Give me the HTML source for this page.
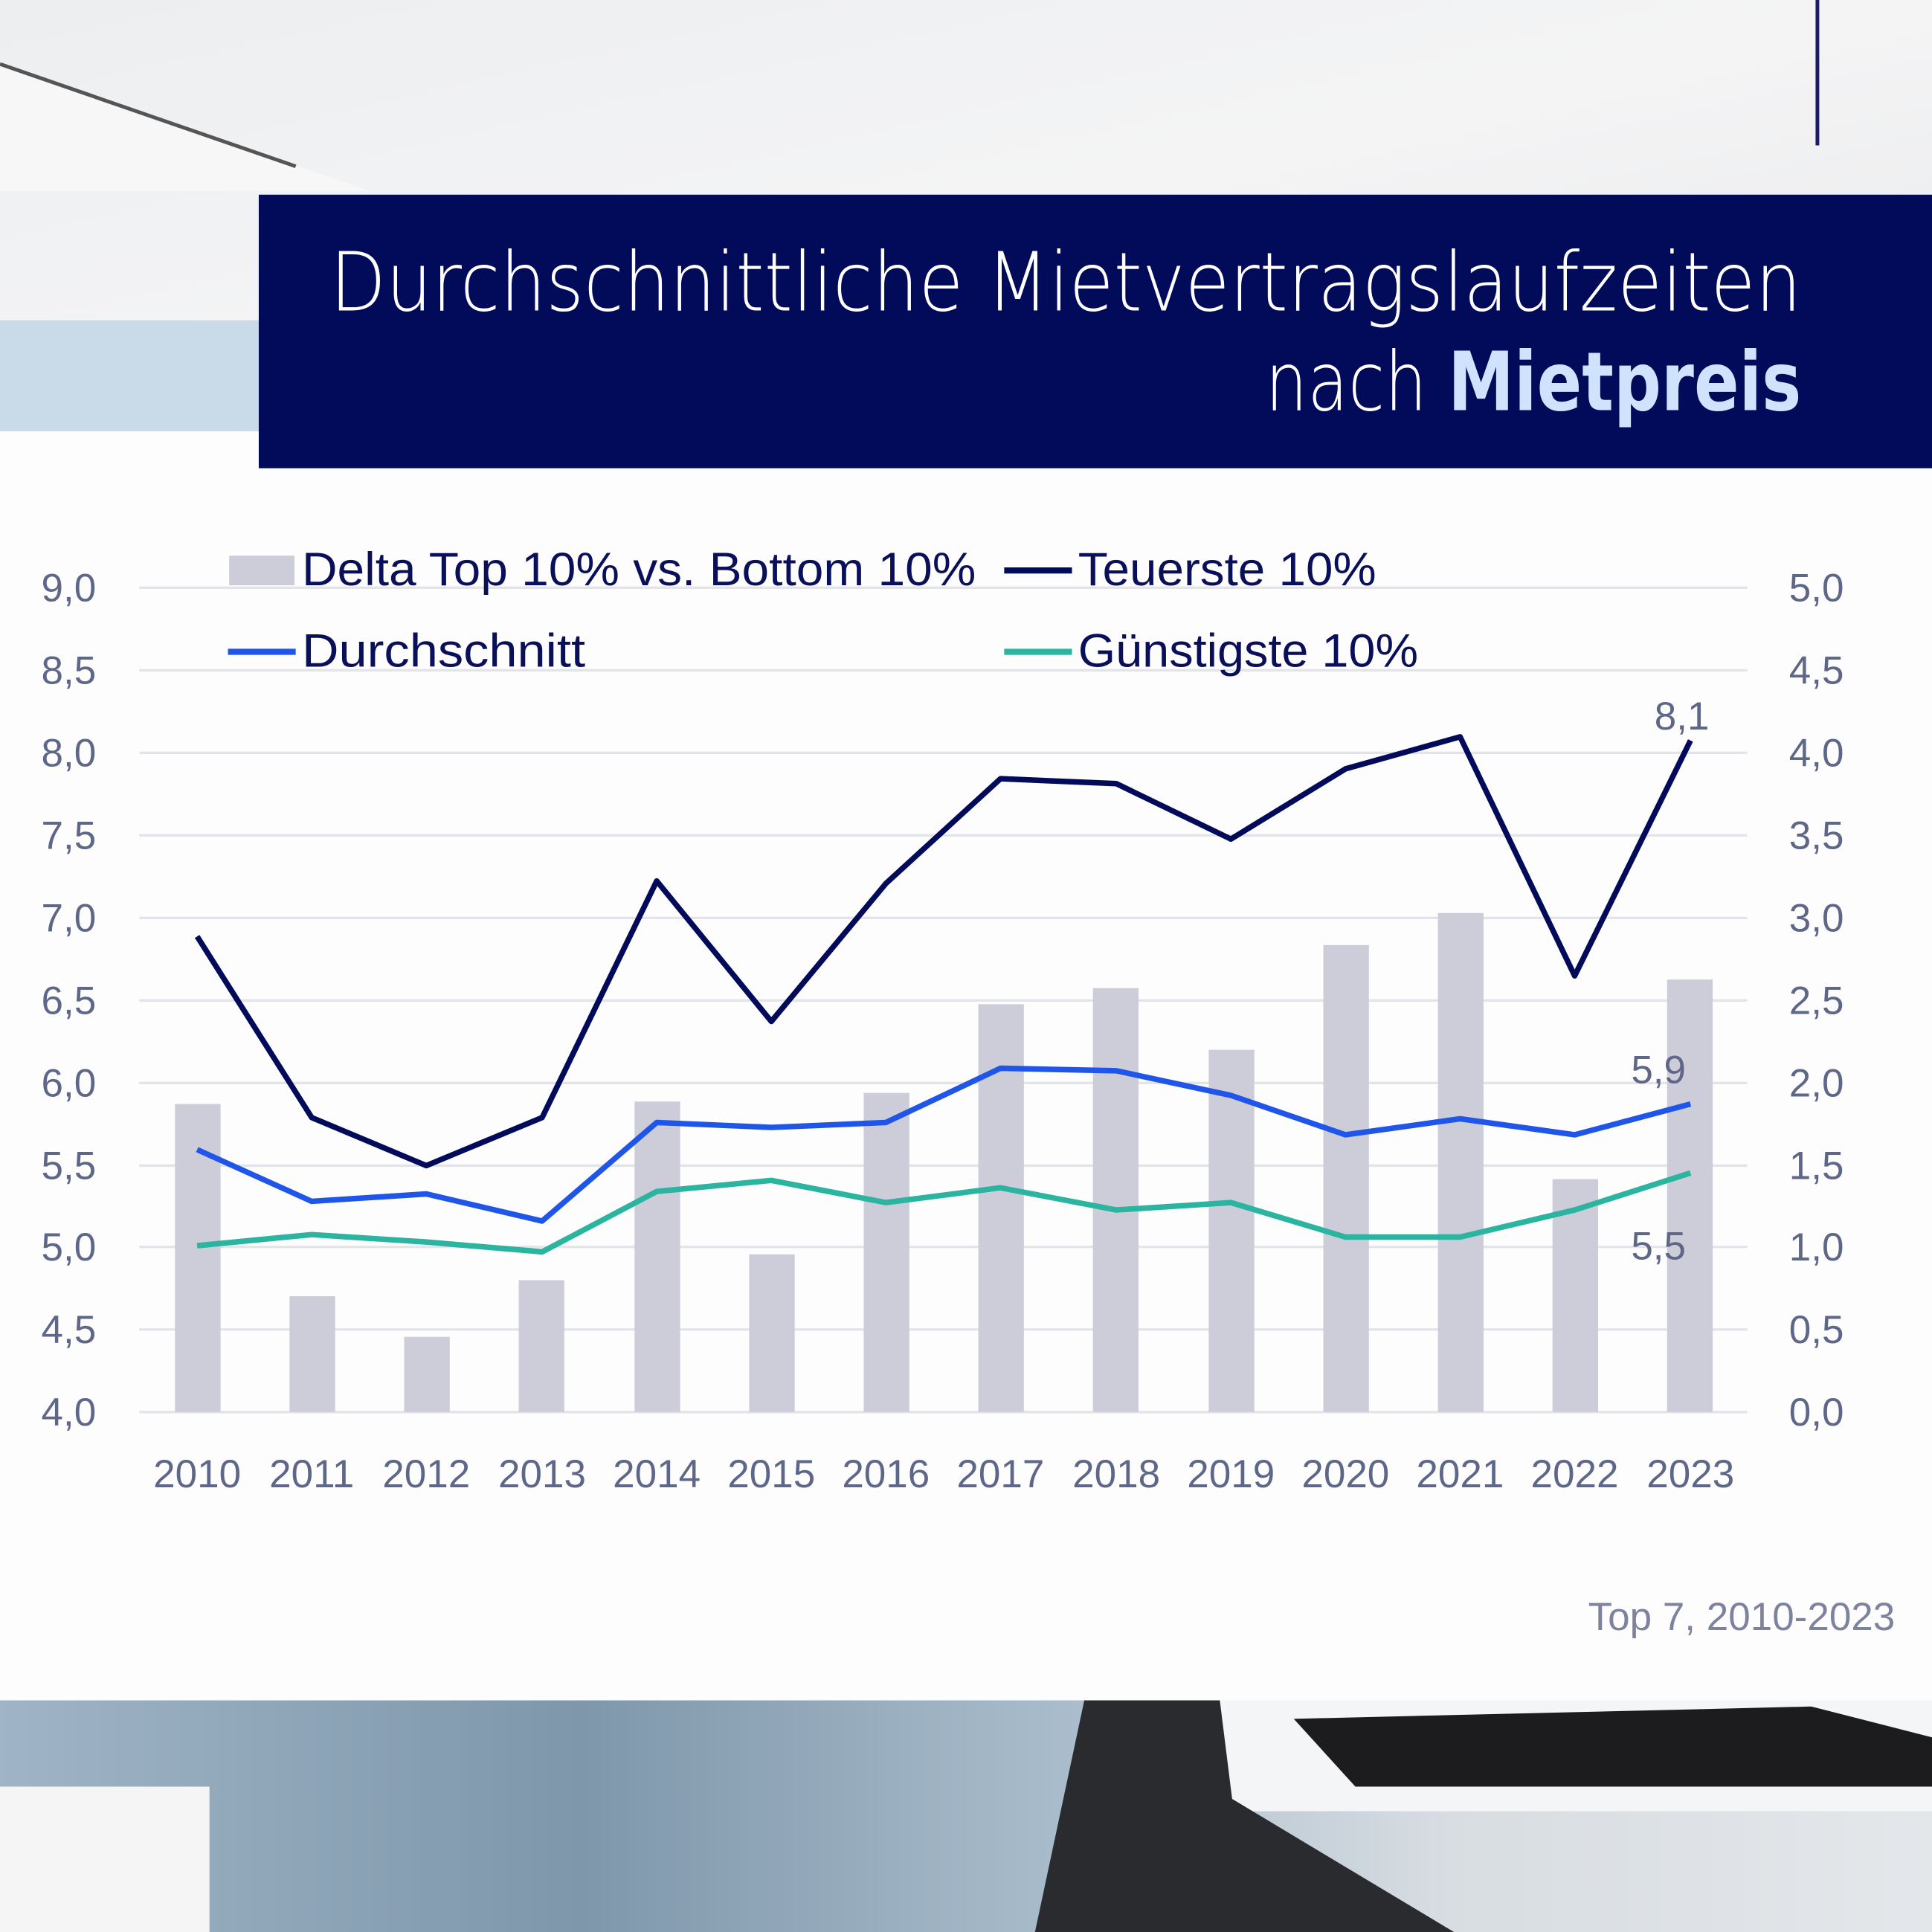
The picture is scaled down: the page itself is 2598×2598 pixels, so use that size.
<!DOCTYPE html>
<html><head><meta charset="utf-8"><style>
html,body{margin:0;padding:0;background:#fff}
svg{display:block}
</style></head><body>
<svg width="2598" height="2598" viewBox="0 0 1568 1568" xmlns="http://www.w3.org/2000/svg" font-family="Liberation Sans, DejaVu Sans, sans-serif">
<defs>
<linearGradient id="top" x1="0" y1="0" x2="1" y2="1">
<stop offset="0" stop-color="#eceef0"/><stop offset="0.5" stop-color="#f4f4f5"/><stop offset="1" stop-color="#e8e9eb"/>
</linearGradient>
<linearGradient id="bot" x1="0" y1="0" x2="1" y2="0">
<stop offset="0" stop-color="#9fb4c6"/><stop offset="0.3" stop-color="#7e97ab"/><stop offset="0.55" stop-color="#a9bccb"/><stop offset="0.75" stop-color="#d8dde2"/><stop offset="1" stop-color="#e4e7ea"/>
</linearGradient>
</defs>
<rect width="1568" height="1568" fill="#fdfdfe"/>
<rect width="1568" height="350" fill="url(#top)"/>
<polygon points="0,50 300,155 0,155" fill="#f7f7f7"/>
<line x1="0" y1="52" x2="240" y2="135" stroke="#555" stroke-width="3"/>
<rect x="0" y="260" width="210" height="90" fill="#c9dbe8"/>
<line x1="1475" y1="0" x2="1475" y2="118" stroke="#1a1d66" stroke-width="3"/>
<rect x="210" y="158" width="1358" height="222" fill="#020a5a"/>
<text x="268" y="252" font-size="66" fill="#fff" font-family="DejaVu Sans, sans-serif" font-weight="200" textLength="1194" lengthAdjust="spacingAndGlyphs">Durchschnittliche Mietvertragslaufzeiten</text>
<text x="1027" y="333" font-size="66" fill="#fff" font-family="DejaVu Sans, sans-serif" font-weight="200" textLength="435" lengthAdjust="spacingAndGlyphs">nach <tspan font-weight="bold" fill="#cfe3ff">Mietpreis</tspan></text>
<rect x="0" y="1380" width="1568" height="188" fill="url(#bot)"/>
<polygon points="900,1380 1568,1380 1568,1470 920,1470" fill="#f4f5f6"/>
<polygon points="1050,1395 1470,1385 1568,1410 1568,1450 1100,1450" fill="#1c1c1e"/>
<polygon points="840,1568 880,1380 990,1380 1000,1460 1180,1568" fill="#2a2b2e"/>
<rect x="0" y="1450" width="170" height="118" fill="#f5f5f5"/>
<g stroke="#e3e4ea" stroke-width="2">
<line x1="113" y1="477" x2="1418" y2="477"/><line x1="113" y1="544" x2="1418" y2="544"/><line x1="113" y1="611" x2="1418" y2="611"/><line x1="113" y1="678" x2="1418" y2="678"/><line x1="113" y1="745" x2="1418" y2="745"/><line x1="113" y1="812" x2="1418" y2="812"/><line x1="113" y1="879" x2="1418" y2="879"/><line x1="113" y1="946" x2="1418" y2="946"/><line x1="113" y1="1012" x2="1418" y2="1012"/><line x1="113" y1="1079" x2="1418" y2="1079"/><line x1="113" y1="1146" x2="1418" y2="1146"/>
</g>
<g fill="#5f6789" font-size="32">
<g text-anchor="end">
<text x="78" y="488">9,0</text><text x="78" y="555">8,5</text><text x="78" y="622">8,0</text><text x="78" y="689">7,5</text><text x="78" y="756">7,0</text><text x="78" y="823">6,5</text><text x="78" y="890">6,0</text><text x="78" y="957">5,5</text><text x="78" y="1023">5,0</text><text x="78" y="1090">4,5</text><text x="78" y="1157">4,0</text>
</g>
<g>
<text x="1452" y="488">5,0</text><text x="1452" y="555">4,5</text><text x="1452" y="622">4,0</text><text x="1452" y="689">3,5</text><text x="1452" y="756">3,0</text><text x="1452" y="823">2,5</text><text x="1452" y="890">2,0</text><text x="1452" y="957">1,5</text><text x="1452" y="1023">1,0</text><text x="1452" y="1090">0,5</text><text x="1452" y="1157">0,0</text>
</g>
<g text-anchor="middle">
<text x="160" y="1207">2010</text><text x="253" y="1207">2011</text><text x="346" y="1207">2012</text><text x="440" y="1207">2013</text><text x="533" y="1207">2014</text><text x="626" y="1207">2015</text><text x="719" y="1207">2016</text><text x="812" y="1207">2017</text><text x="906" y="1207">2018</text><text x="999" y="1207">2019</text><text x="1092" y="1207">2020</text><text x="1185" y="1207">2021</text><text x="1278" y="1207">2022</text><text x="1372" y="1207">2023</text>
</g>
</g>
<g fill="#cdcdd9">
<rect x="142" y="896" width="37" height="250"/><rect x="235" y="1052" width="37" height="94"/><rect x="328" y="1085" width="37" height="61"/><rect x="421" y="1039" width="37" height="107"/><rect x="515" y="894" width="37" height="252"/><rect x="608" y="1018" width="37" height="128"/><rect x="701" y="887" width="37" height="259"/><rect x="794" y="815" width="37" height="331"/><rect x="887" y="802" width="37" height="344"/><rect x="981" y="852" width="37" height="294"/><rect x="1074" y="767" width="37" height="379"/><rect x="1167" y="741" width="37" height="405"/><rect x="1260" y="957" width="37" height="189"/><rect x="1353" y="795" width="37" height="351"/>
</g>
<g fill="none" stroke-width="4.5" stroke-linejoin="round">
<polyline stroke="#2bb5a0" points="160,1011 253,1002 346,1008 440,1016 533,967 626,958 719,976 812,964 906,982 999,976 1092,1004 1185,1004 1278,982 1372,952"/>
<polyline stroke="#1f55e8" points="160,933 253,975 346,969 440,991 533,911 626,915 719,911 812,867 906,869 999,889 1092,921 1185,908 1278,921 1372,896"/>
<polyline stroke="#020a5a" points="160,760 253,907 346,946 440,907 533,715 626,829 719,717 812,632 906,636 999,681 1092,624 1185,598 1278,792 1372,601"/>
</g>
<g fill="#5f6789" font-size="32" text-anchor="middle">
<text x="1365" y="592">8,1</text><text x="1346" y="879">5,9</text><text x="1346" y="1022">5,5</text>
</g>
<rect x="186" y="451" width="53" height="24" fill="#cdcdd9"/>
<text x="245" y="475" font-size="38" fill="#0a0f5a" textLength="547" lengthAdjust="spacingAndGlyphs">Delta Top 10% vs. Bottom 10%</text>
<line x1="815" y1="463" x2="870" y2="463" stroke="#020a5a" stroke-width="5"/>
<text x="875" y="475" font-size="38" fill="#0a0f5a" textLength="242" lengthAdjust="spacingAndGlyphs">Teuerste 10%</text>
<line x1="185" y1="529" x2="240" y2="529" stroke="#1f55e8" stroke-width="5"/>
<text x="245" y="541" font-size="38" fill="#0a0f5a" textLength="230" lengthAdjust="spacingAndGlyphs">Durchschnitt</text>
<line x1="815" y1="529" x2="870" y2="529" stroke="#2bb5a0" stroke-width="5"/>
<text x="875" y="541" font-size="38" fill="#0a0f5a" textLength="276" lengthAdjust="spacingAndGlyphs">Günstigste 10%</text>
<text x="1538" y="1323" text-anchor="end" font-size="32" fill="#7d839e">Top 7, 2010-2023</text>
</svg>
</body></html>
